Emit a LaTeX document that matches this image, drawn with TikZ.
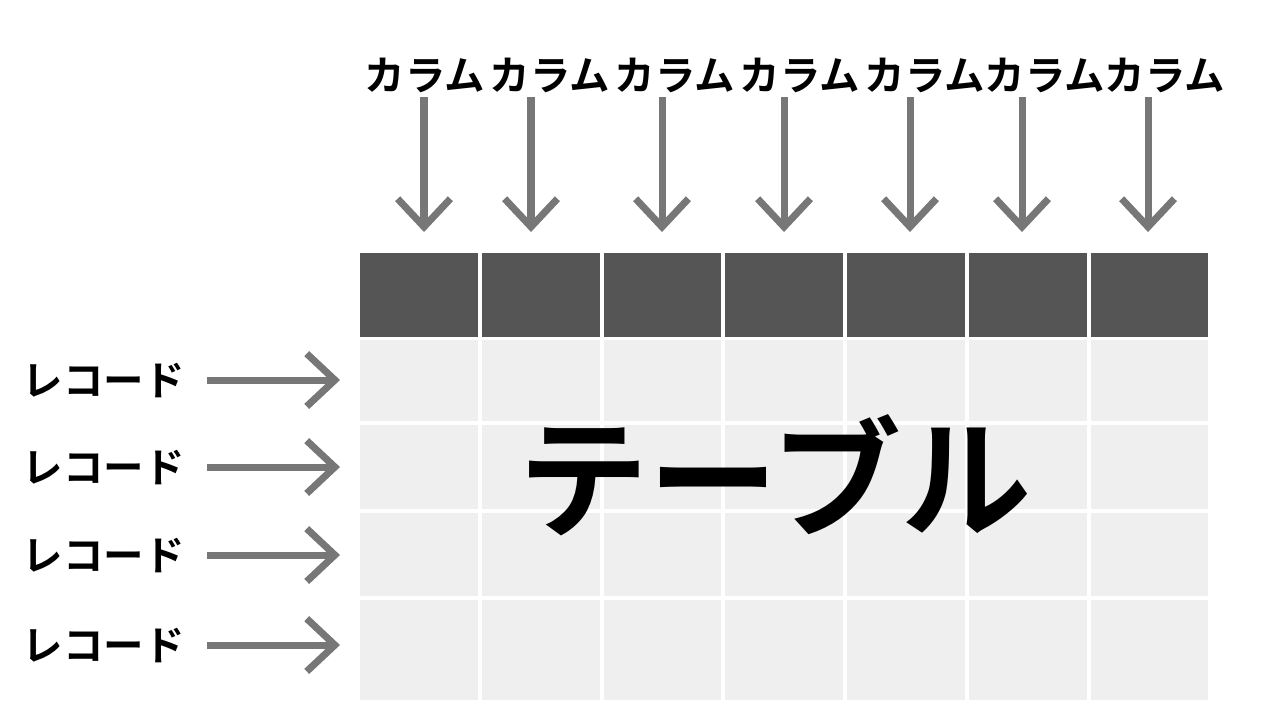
\documentclass[tikz,border=0pt]{standalone}
\usepackage{fontspec}
\setmainfont{Noto Sans CJK JP Bold}
\usetikzlibrary{arrows.meta}
\definecolor{headgray}{HTML}{555555}
\definecolor{cellgray}{HTML}{EFEFEF}
\definecolor{arrowgray}{HTML}{777777}
\tikzset{
  headcell/.style={fill=headgray,inner sep=0pt},
  bodycell/.style={fill=cellgray,inner sep=0pt},
  pointer/.style={draw=arrowgray,line width=2pt,
    -{Straight Barb[length=8pt,width=15pt,line width=2pt]}},
  collabel/.style={font=\fontsize{11.5}{12}\selectfont,inner sep=0pt},
}
\begin{document}
\begin{tikzpicture}[x=0.01cm,y=-0.01cm]
  \useasboundingbox (0,0) rectangle (1280,720);
  % grid
  \foreach \i/\xa/\xb in {1/360/478,2/482/600,3/604/721,4/725/843,5/847/965,6/969/1087,7/1091/1208} {
    \fill[headgray] (\xa,253) rectangle (\xb,337);
    \foreach \j/\ya/\yb in {1/340/421,2/425/509,3/513/596,4/600/700}
      \fill[cellgray] (\xa,\ya) rectangle (\xb,\yb);
  }
  \node[font=\fontsize{37}{40}\selectfont] (table) at (775,475) {テーブル};
  % columns
  \foreach \i/\lx/\x in {1/425/424,2/550/531,3/675/662,4/800/784,5/925/910,6/1045/1022,7/1165/1148} {
    \node[collabel] (col\i) at (\lx,75) {カラム};
    \coordinate (colend\i) at (\x,232);
    \draw[pointer] (\x,97) -- (colend\i);
  }
  % records
  \foreach \j/\y in {1/380,2/467,3/555,4/645} {
    \node[collabel,anchor=west] (rec\j) at (22,\y) {レコード};
    \coordinate (recend\j) at (340,\y);
    \draw[pointer] (207,\y) -- (recend\j);
  }
\end{tikzpicture}
\end{document}
